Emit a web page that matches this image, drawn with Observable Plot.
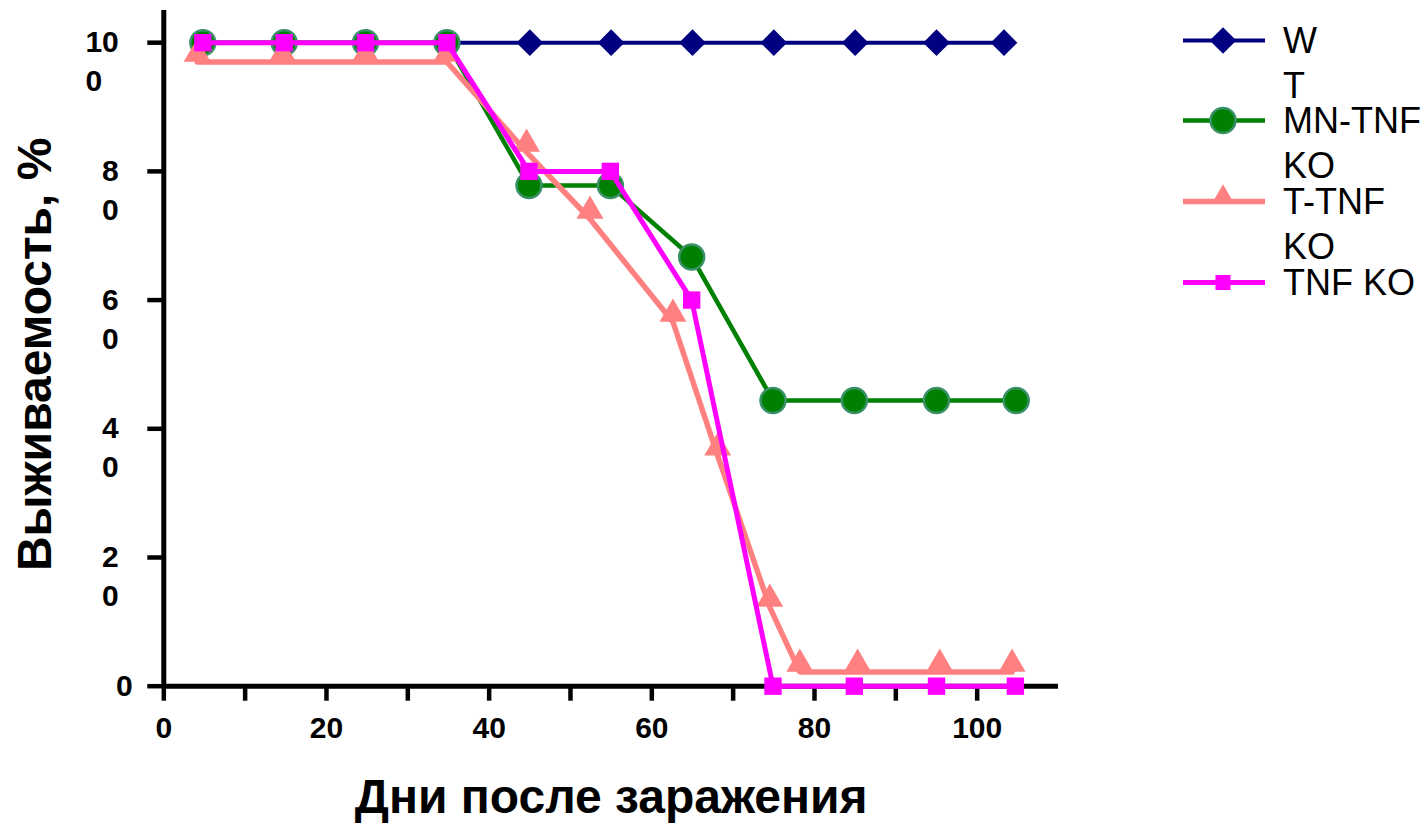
<!DOCTYPE html>
<html>
<head>
<meta charset="utf-8">
<script src="https://cdn.jsdelivr.net/npm/d3@7"></script>
<script src="https://cdn.jsdelivr.net/npm/@observablehq/plot@0.6"></script>
<style>
  html, body { margin: 0; padding: 0; background: #fff; }
  body { font-family: "Liberation Sans", Arial, sans-serif; }
  #wrap { position: relative; width: 1428px; height: 827px; overflow: hidden; }
  #legend { position: absolute; left: 1183px; top: 0; }
  .item { position: absolute; left: 0; height: 45px; }
  .item svg { position: absolute; left: 0; top: 0; }
  .item .lbl { position: absolute; left: 100px; top: 0; font-size: 36px; line-height: 45px; color: #000; white-space: pre; }
</style>
</head>
<body>
<div id="wrap"><div id="legend"></div></div>
<script>
// ---- data ----
const xTicks = [0, 10, 20, 30, 40, 50, 60, 70, 80, 90, 100];
const xLabels = [0, 20, 40, 60, 80, 100];
const yTicks = [0, 20, 40, 60, 80, 100];

const seriesNames = ["WT", "MN-TNF KO", "T-TNF KO", "TNF KO"];
const legendLines = [["W", "T"], ["MN-TNF", "KO"], ["T-TNF", "KO"], ["TNF KO"]];

const wtDays = [5, 15, 25, 35, 45, 55, 65, 75, 85, 95, 103.3];
const wtSurv = [100, 100, 100, 100, 100, 100, 100, 100, 100, 100, 100];

const mnDays = [4.8, 14.8, 24.8, 34.8, 44.9, 54.9, 64.9, 74.9, 84.9, 95, 104.8];
const mnSurv = [100, 100, 100, 100, 77.8, 77.8, 66.7, 44.4, 44.4, 44.4, 44.4];

const tDays = [4.1, 14.6, 24.8, 34.8, 44.6, 52.4, 62.6, 68.1, 74.5, 78.2, 85.3, 95.4, 104.3];
const tSurv = [97.0, 97.0, 97.0, 97.0, 83.0, 72.6, 56.6, 35.8, 12.3, 2.2, 2.2, 2.2, 2.2];

const koDays = [4.8, 14.8, 24.8, 34.8, 44.9, 54.9, 64.9, 74.9, 84.9, 95, 104.7];
const koSurv = [100, 100, 100, 100, 80, 80, 60, 0, 0, 0, 0];

// ---- styles ----
const FONT = "'Liberation Sans', Arial, Helvetica, sans-serif";
const styles = [
  {color: "#000080", symbol: "diamond2", r: 12, lineWidth: 4, fill: "#000080", stroke: "none", dy: 0},
  {color: "#008000", symbol: "circle", r: 12.5, lineWidth: 4.5, fill: "#008000", stroke: "#3a9168", dy: 0},
  {color: "#ff8080", symbol: "triangle", r: 10, lineWidth: 5.5, fill: "#ff8080", stroke: "none", dy: -8},
  {color: "#ff00ff", symbol: "square", r: 9.8, lineWidth: 5, fill: "#ff00ff", stroke: "none", dy: 0}
];

const rows = (days, surv) => days.map((d, i) => ({day: d, surv: surv[i]}));
const series = [rows(wtDays, wtSurv), rows(mnDays, mnSurv), rows(tDays, tSurv), rows(koDays, koSurv)];

// y tick label rows: two-line stacked labels like the reference
const yLab = yTicks.map(v => {
  const s = String(v);
  return s.length > 1 ? {v, l1: s.slice(0, -1), l2: s.slice(-1)} : {v, l1: s, l2: null};
});
const YFS = 30;
const DIG = 0.556 * YFS; // digit advance at bold
const yLabelMarks = [];
yLabelMarks.push(Plot.text(yLab.filter(d => d.l2 === null), {y: "v", text: "l1", frameAnchor: "left", dx: -31, textAnchor: "end", fontSize: YFS, fontWeight: "bold"}));
for (const len of [1, 2]) {
  const sub = yLab.filter(d => d.l2 !== null && d.l1.length === len);
  yLabelMarks.push(Plot.text(sub, {y: "v", text: "l1", frameAnchor: "left", dx: -45, textAnchor: "end", fontSize: YFS, fontWeight: "bold"}));
  yLabelMarks.push(Plot.text(sub, {y: "v", text: "l2", frameAnchor: "left", dx: -45 - (len - 1) * DIG, dy: 39, textAnchor: "end", fontSize: YFS, fontWeight: "bold"}));
}

const seriesMarks = [];
series.forEach((data, i) => {
  const st = styles[i];
  seriesMarks.push(Plot.line(data, {x: "day", y: "surv", stroke: st.color, strokeWidth: st.lineWidth, strokeLinejoin: "miter"}));
  seriesMarks.push(Plot.dot(data, {x: "day", y: "surv", symbol: () => st.symbol, r: st.r, fill: st.fill, stroke: st.stroke, strokeWidth: 2.5, dy: st.dy}));
});

const chart = Plot.plot({
  width: 1428,
  height: 827,
  marginLeft: 163.3,
  marginRight: 370,
  marginTop: 10,
  marginBottom: 141.3,
  style: {fontFamily: FONT, background: "white", overflow: "visible"},
  x: {domain: [0, 110]},
  y: {domain: [0, 105]},
  symbol: {type: "identity"},
  marks: [
    Plot.axisX({ticks: xTicks, tickSize: 15, strokeWidth: 4.5, tickPadding: 15, fontSize: 30, fontWeight: "bold",
      tickFormat: d => xLabels.includes(d) ? String(d) : "", label: null}),
    Plot.axisY({ticks: yTicks, tickSize: 16, strokeWidth: 4.5, tickFormat: () => "", label: null}),
    ...yLabelMarks,
    Plot.ruleY([0], {strokeWidth: 5, stroke: "black"}),
    Plot.ruleX([0], {strokeWidth: 5, stroke: "black"}),
    Plot.text(["Выживаемость, %"], {frameAnchor: "left", textAnchor: "middle", dx: -128, dy: 6, rotate: -90, fontSize: 48, fontWeight: "bold"}),
    Plot.text(["Дни после заражения"], {frameAnchor: "bottom", textAnchor: "middle", dy: 127, fontSize: 48, fontWeight: "bold"}),
    ...seriesMarks
  ]
});
document.getElementById("wrap").prepend(chart);
chart.style.position = "absolute";
chart.style.left = "0";
chart.style.top = "0";

// ---- legend (HTML) ----
const legend = document.getElementById("legend");
seriesNames.forEach((name, i) => {
  const st = styles[i];
  const item = document.createElement("div");
  item.className = "item";
  item.style.top = (40 + i * 80.7 - 22.5) + "px";
  const svg = d3.create("svg").attr("width", 90).attr("height", 45);
  svg.append("line").attr("x1", 0).attr("x2", 82).attr("y1", 22.5).attr("y2", 22.5)
    .attr("stroke", st.color).attr("stroke-width", st.lineWidth);
  const symMap = {diamond2: d3.symbolDiamond2, circle: d3.symbolCircle, triangle: d3.symbolTriangle, square: d3.symbolSquare};
  const rr = i === 2 ? 8.5 : (i === 3 ? 8.5 : st.r);
  svg.append("path")
    .attr("d", d3.symbol(symMap[st.symbol], Math.PI * rr * rr)())
    .attr("transform", `translate(40,${22.5 + (i === 2 ? -4 : 0)})`)
    .attr("fill", st.fill).attr("stroke", st.stroke).attr("stroke-width", 2.5);
  item.appendChild(svg.node());
  const lbl = document.createElement("div");
  lbl.className = "lbl";
  lbl.setAttribute("aria-label", name);
  lbl.textContent = legendLines[i].join("\n");
  item.appendChild(lbl);
  legend.appendChild(item);
});
</script>
</body>
</html>
